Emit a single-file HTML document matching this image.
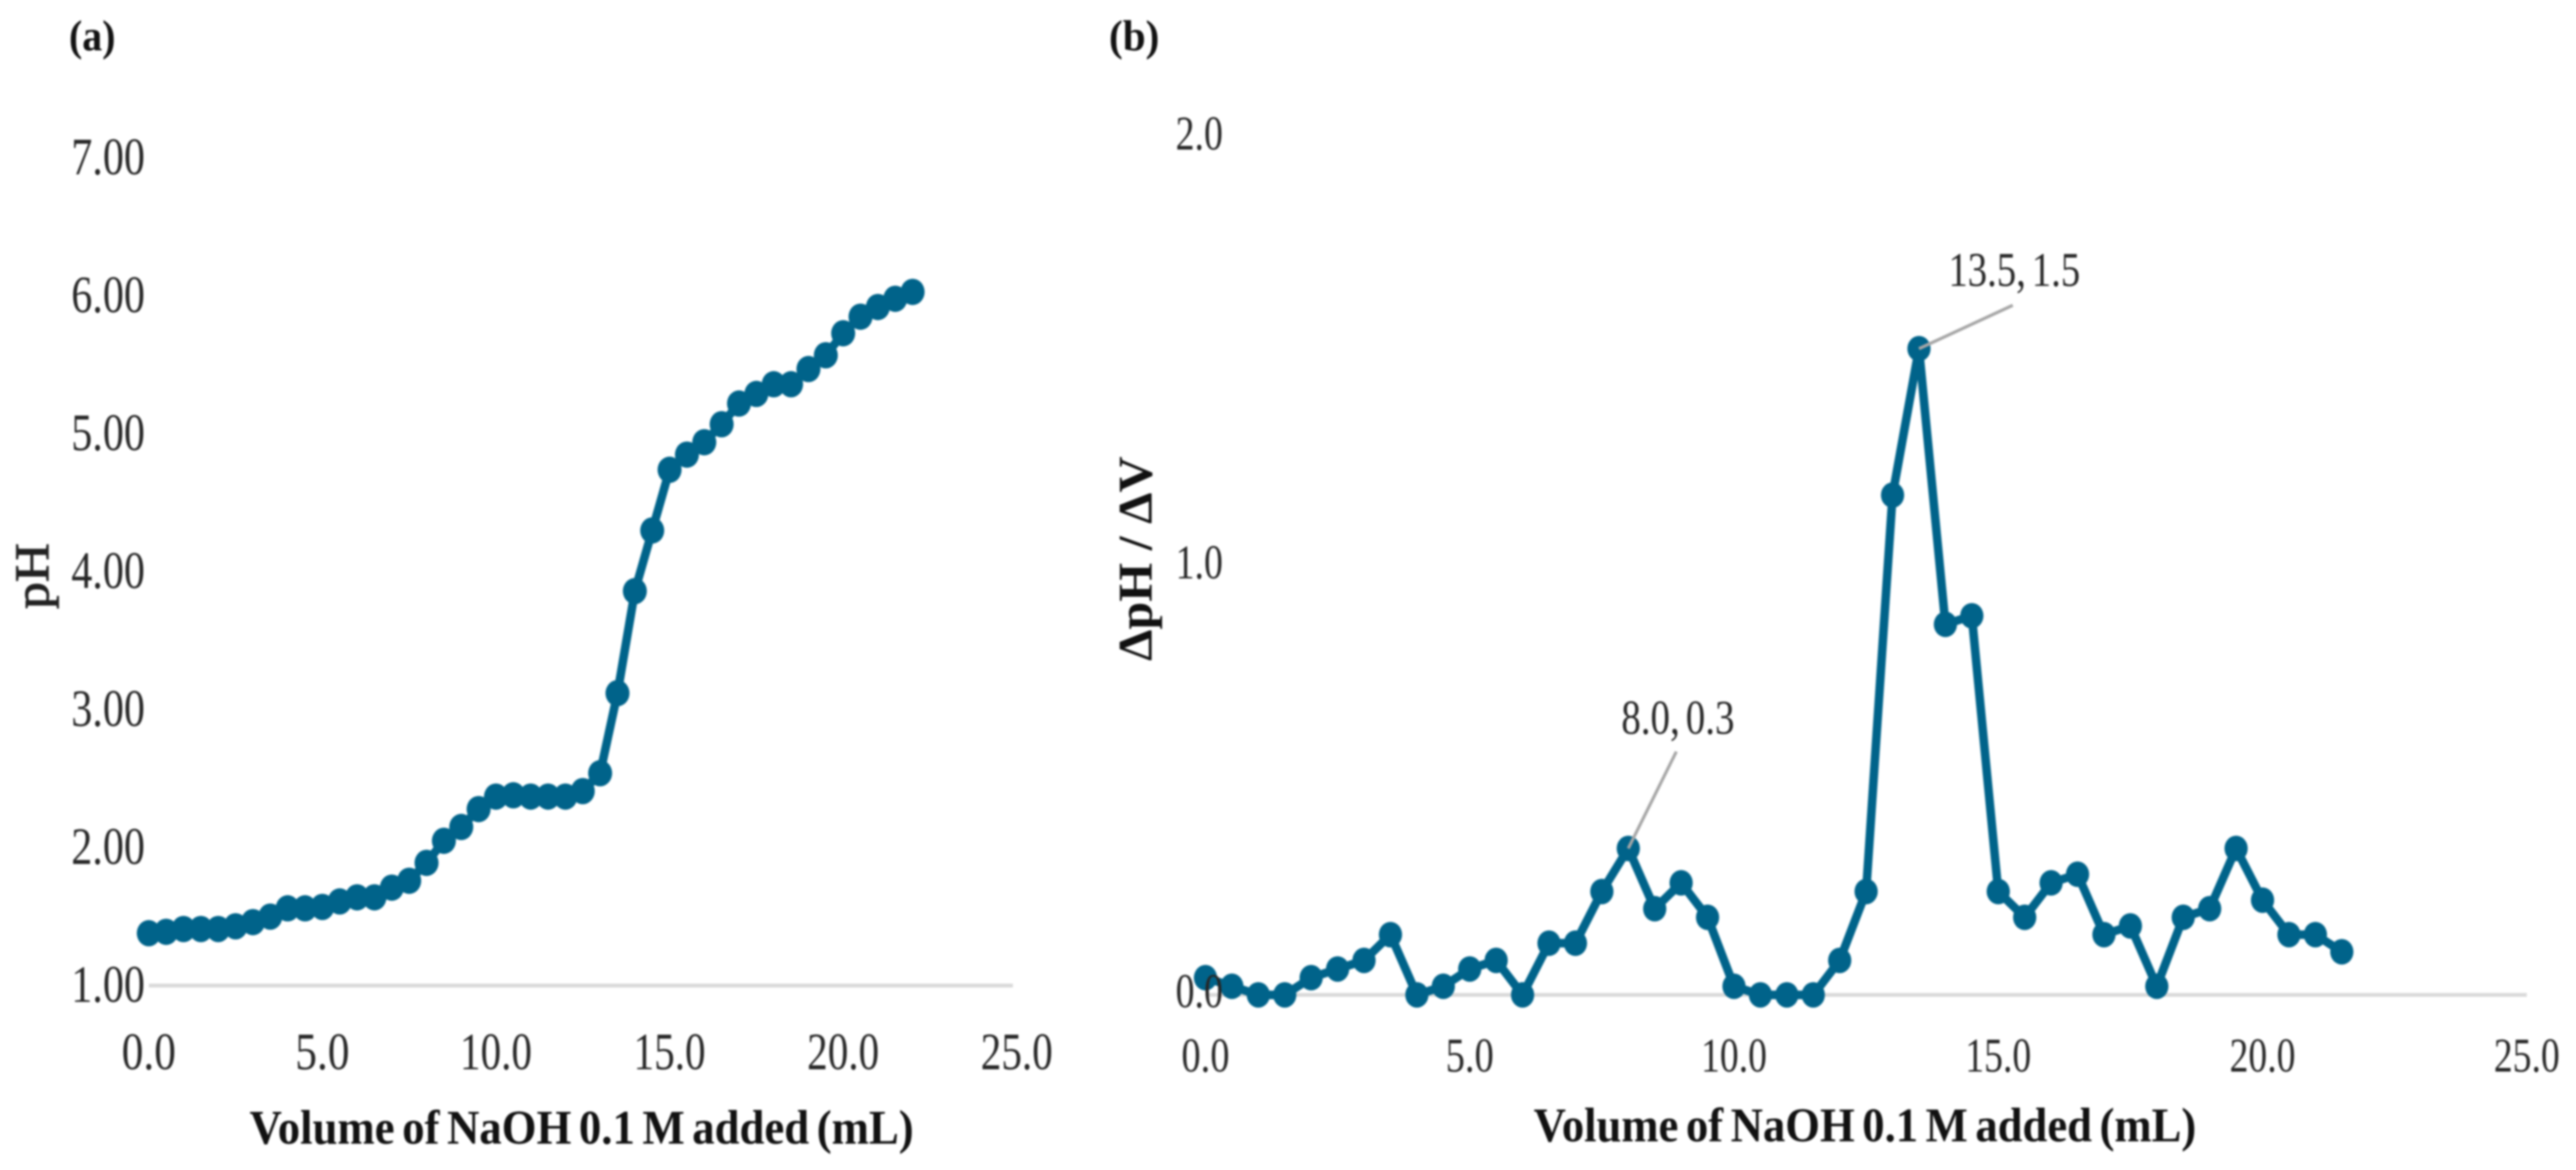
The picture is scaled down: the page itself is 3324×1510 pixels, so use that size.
<!DOCTYPE html>
<html lang="en">
<head>
<meta charset="utf-8">
<title>NaOH titration curves</title>
<style>
  html, body { margin: 0; padding: 0; background: #fff; }
  body { width: 3324px; height: 1510px; overflow: hidden; }
  svg { display: block; filter: blur(1.4px); }
  text { font-family: "Liberation Serif", "DejaVu Serif", serif; }
</style>
</head>
<body>
<svg id="figure" xmlns="http://www.w3.org/2000/svg" width="3324" height="1510" viewBox="0 0 3324 1510">
  <rect x="0" y="0" width="3324" height="1510" fill="#ffffff"/>

  <g id="panel-a"></g>
  <g id="panel-b"></g>

  <text x="89" y="65" font-size="56" font-weight="bold" fill="#111" textLength="60" lengthAdjust="spacingAndGlyphs">(a)</text>
  <text x="1431" y="65" font-size="56" font-weight="bold" fill="#111" textLength="65" lengthAdjust="spacingAndGlyphs">(b)</text>

  <text x="322" y="1476" font-size="62" font-weight="bold" fill="#111" word-spacing="-5" textLength="857" lengthAdjust="spacingAndGlyphs">Volume of NaOH 0.1 M added (mL)</text>
  <text x="1979" y="1473" font-size="62" font-weight="bold" fill="#111" word-spacing="-5" textLength="855" lengthAdjust="spacingAndGlyphs">Volume of NaOH 0.1 M added (mL)</text>

  <text transform="translate(62 786) rotate(-90)" font-size="62" fill="#222" stroke="#222" stroke-width="1.2" textLength="85" lengthAdjust="spacingAndGlyphs">pH</text>
  <text transform="translate(1486 853) rotate(-90)" font-size="62" font-weight="bold" fill="#111" textLength="264" lengthAdjust="spacingAndGlyphs">ΔpH / ΔV</text>
</svg>

<script>
// Panel (a): titration curve
const volumeA = [0,0.5,1,1.5,2,2.5,3,3.5,4,4.5,5,5.5,6,6.5,7,7.5,8,8.5,9,9.5,10,10.5,11,11.5,12,12.5,13,13.5,14,14.5,15,15.5,16,16.5,17,17.5,18,18.5,19,19.5,20,20.5,21,21.5,22];
const pHValues = [1.38,1.39,1.41,1.41,1.41,1.43,1.46,1.50,1.56,1.56,1.57,1.61,1.64,1.64,1.71,1.76,1.89,2.05,2.15,2.28,2.37,2.38,2.37,2.37,2.37,2.41,2.54,3.12,3.86,4.30,4.74,4.85,4.94,5.07,5.22,5.29,5.36,5.36,5.47,5.57,5.73,5.85,5.92,5.98,6.03];
const xTicksA = [0,5,10,15,20,25];
const xTickLabelsA = ["0.0","5.0","10.0","15.0","20.0","25.0"];
const yTicksA = [1,2,3,4,5,6,7];
const yTickLabelsA = ["1.00","2.00","3.00","4.00","5.00","6.00","7.00"];

// Panel (b): first derivative
const volumeB = [0,0.5,1,1.5,2,2.5,3,3.5,4,4.5,5,5.5,6,6.5,7,7.5,8,8.5,9,9.5,10,10.5,11,11.5,12,12.5,13,13.5,14,14.5,15,15.5,16,16.5,17,17.5,18,18.5,19,19.5,20,20.5,21,21.5];
const derivativeValues = [0.04,0.02,0,0,0.04,0.06,0.08,0.14,0,0.02,0.06,0.08,0,0.12,0.12,0.24,0.34,0.20,0.26,0.18,0.02,0,0,0,0.08,0.24,1.16,1.50,0.86,0.88,0.24,0.18,0.26,0.28,0.14,0.16,0.02,0.18,0.20,0.34,0.22,0.14,0.14,0.10];
const xTicksB = [0,5,10,15,20,25];
const xTickLabelsB = ["0.0","5.0","10.0","15.0","20.0","25.0"];
const yTicksB = [0,1,2];
const yTickLabelsB = ["0.0","1.0","2.0"];
const peakVolumes = [8,13.5];
const peakLabels = ["8.0, 0.3","13.5, 1.5"];

const SVG_NS = "http://www.w3.org/2000/svg";
const SERIES_COLOR = "#00638a";
const GRID_COLOR = "#dadada";
const LEADER_COLOR = "#a6a6a6";
const TICK_COLOR = "#262626";

function make(tag, parent, attrs, content) {
  const el = document.createElementNS(SVG_NS, tag);
  for (const k in attrs) el.setAttribute(k, attrs[k]);
  if (content !== undefined) el.textContent = content;
  parent.appendChild(el);
  return el;
}

// axis functions
const xA = v => 192 + v * 44.8;
const yA = v => 1272 - (v - 1) * 178;
const xB = v => 1555.5 + v * 68.2;
const yB = v => 1284 - v * 556;

const panelA = document.getElementById("panel-a");
const panelB = document.getElementById("panel-b");

function drawGrid(parent, x1, x2, y) {
  const grid = make("line", parent, { x1: x1, x2: x2, y1: y, y2: y, stroke: GRID_COLOR, "stroke-width": 5 });
  
  
}

function drawSeries(parent, xs, ys, xFn, yFn, width, rx, ry) {
  const pts = xs.map((x, i) => xFn(x).toFixed(1) + "," + yFn(ys[i]).toFixed(1)).join(" ");
  const line = make("polyline", parent, { points: pts, fill: "none", stroke: SERIES_COLOR, "stroke-width": width, "stroke-linejoin": "round" });
  
  
  xs.forEach((x, i) => {
    const dot = make("ellipse", parent, { cx: xFn(x).toFixed(1), cy: yFn(ys[i]).toFixed(1), rx: rx, ry: ry, fill: SERIES_COLOR });
    
    
  });
}

function drawXTicks(parent, ticks, labels, xFn, y, size, perChar) {
  ticks.forEach((t, i) => {
    const w = labels[i].length === 3 ? perChar[0] : perChar[1];
    const label = make("text", parent, {
      x: (xFn(t) - w / 2).toFixed(1), y: y, "font-size": size, fill: TICK_COLOR,
      textLength: w, lengthAdjust: "spacingAndGlyphs"
    }, labels[i]);
    
    
  });
}

function drawYTicks(parent, ticks, labels, yFn, x, w, size, dyFn) {
  ticks.forEach((t, i) => {
    const label = make("text", parent, {
      x: x, y: (yFn(t) + dyFn(t)).toFixed(1), "font-size": size, fill: TICK_COLOR,
      textLength: w, lengthAdjust: "spacingAndGlyphs"
    }, labels[i]);
    
    
  });
}

// Panel (a)
drawGrid(panelA, xA(0), xA(25) - 5, yA(1));
drawSeries(panelA, volumeA, pHValues, xA, yA, 11, 15.5, 17);
drawYTicks(panelA, yTicksA, yTickLabelsA, yA, 92, 95, 68, t => 21);
drawXTicks(panelA, xTicksA, xTickLabelsA, xA, 1380, 68, [70, 93]);

// Panel (b)
drawGrid(panelB, xB(0), xB(25), yB(0));
drawSeries(panelB, volumeB, derivativeValues, xB, yB, 11, 15, 16.5);

const leaderOffsets = [[62, -125], [121, -56]];
const labelOffsets = [[64, -148], [123, -81]];
const labelWidths = [146, 170];
peakVolumes.forEach((v, i) => {
  const px = xB(v);
  const py = yB(derivativeValues[volumeB.indexOf(v)]);
  const leader = make("line", panelB, {
    x1: px.toFixed(1), y1: py.toFixed(1),
    x2: (px + leaderOffsets[i][0]).toFixed(1), y2: (py + leaderOffsets[i][1]).toFixed(1),
    stroke: LEADER_COLOR, "stroke-width": 4
  });
  
  
  const label = make("text", panelB, {
    x: (px + labelOffsets[i][0] - labelWidths[i] / 2).toFixed(1),
    y: (py + labelOffsets[i][1]).toFixed(1),
    "font-size": 62, fill: TICK_COLOR, "word-spacing": -6,
    textLength: labelWidths[i], lengthAdjust: "spacingAndGlyphs"
  }, peakLabels[i]);
  
  
});

drawYTicks(panelB, yTicksB, yTickLabelsB, yB, 1517, 61, 62, t => 16 + t * 2.5);
drawXTicks(panelB, xTicksB, xTickLabelsB, xB, 1383, 62, [62, 85]);
</script>
</body>
</html>
